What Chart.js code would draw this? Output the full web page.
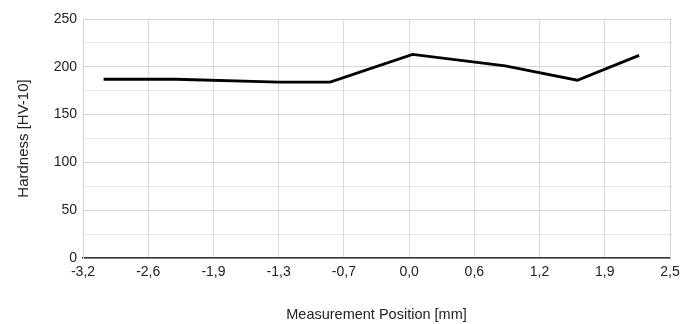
<!DOCTYPE html>
<html>
<head>
<meta charset="utf-8">
<script src="https://cdn.jsdelivr.net/npm/chart.js@4"></script>
<style>
  html, body { margin: 0; padding: 0; background: #fff; }
  canvas { display: block; }
</style>
</head>
<body>
<canvas id="chart" width="693" height="324"></canvas>
<script>
// posizioni misurate (mm) e durezza (HV-10)
const positions = [-3.0, -2.3, -1.3, -0.8, 0.0, 0.9, 1.6, 2.2];
const hardness  = [187, 187, 184, 184, 213, 201, 186, 212];

// etichette asse x (10 tacche uniformi da -3,2 a 2,5)
const xTickLabels = ['-3,2','-2,6','-1,9','-1,3','-0,7','0,0','0,6','1,2','1,9','2,5'];
const xMin = -3.2, xMax = 2.5;
const yMin = 0, yMax = 250;

const FONT = 'Liberation Sans, Arial, sans-serif';

new Chart(document.getElementById('chart'), {
  type: 'line',
  data: {
    datasets: [{
      data: positions.map((x, i) => ({ x, y: hardness[i] })),
      borderColor: '#000',
      borderWidth: 2.8,
      pointRadius: 0,
      tension: 0,
      fill: false
    }]
  },
  options: {
    responsive: false,
    animation: false,
    layout: { padding: { top: 19, right: 23, left: 0, bottom: 0 } },
    plugins: { legend: { display: false }, tooltip: { enabled: false } },
    scales: {
      x: {
        type: 'linear',
        min: xMin, max: xMax,
        afterBuildTicks: s => {
          const n = xTickLabels.length - 1;
          s.ticks = xTickLabels.map((_, i) => ({ value: xMin + (xMax - xMin) * i / n }));
        },
        afterFit: s => { s.height = 66; },
        ticks: {
          autoSkip: false, maxRotation: 0, padding: 6,
          color: '#222', font: { family: FONT, size: 14 },
          callback: (v, i) => xTickLabels[i]
        },
        grid: { color: '#d9d9d9', lineWidth: 1, drawTicks: false },
        border: { color: '#333', width: 1.5 },
        title: {
          display: true, text: 'Measurement Position [mm]',
          color: '#222', font: { family: FONT, size: 14.5 },
          padding: { top: 0, bottom: 0 }
        }
      },
      y: {
        min: yMin, max: yMax,
        afterFit: s => { s.width = 83; },
        ticks: {
          stepSize: 25, padding: 6,
          color: '#222', font: { family: FONT, size: 14 },
          callback: v => v % 50 === 0 ? v : ''
        },
        grid: {
          drawTicks: false,
          color: c => c.tick && c.tick.value % 50 === 0 ? '#d4d4d4' : '#e6e6e6',
          lineWidth: 1
        },
        border: { color: '#d4d4d4' },
        title: {
          display: true, text: 'Hardness [HV-10]',
          color: '#222', font: { family: FONT, size: 15 },
          padding: { top: 15, bottom: 0 }
        }
      }
    }
  },
  plugins: [{
    id: 'rightBorder',
    afterDraw: c => {
      const a = c.chartArea, ctx = c.ctx;
      ctx.save();
      ctx.strokeStyle = '#d4d4d4';
      ctx.lineWidth = 1;
      ctx.beginPath();
      ctx.moveTo(a.right + 0.5, a.top);
      ctx.lineTo(a.right + 0.5, a.bottom);
      ctx.stroke();
      ctx.restore();
    }
  }]
});
</script>
</body>
</html>
